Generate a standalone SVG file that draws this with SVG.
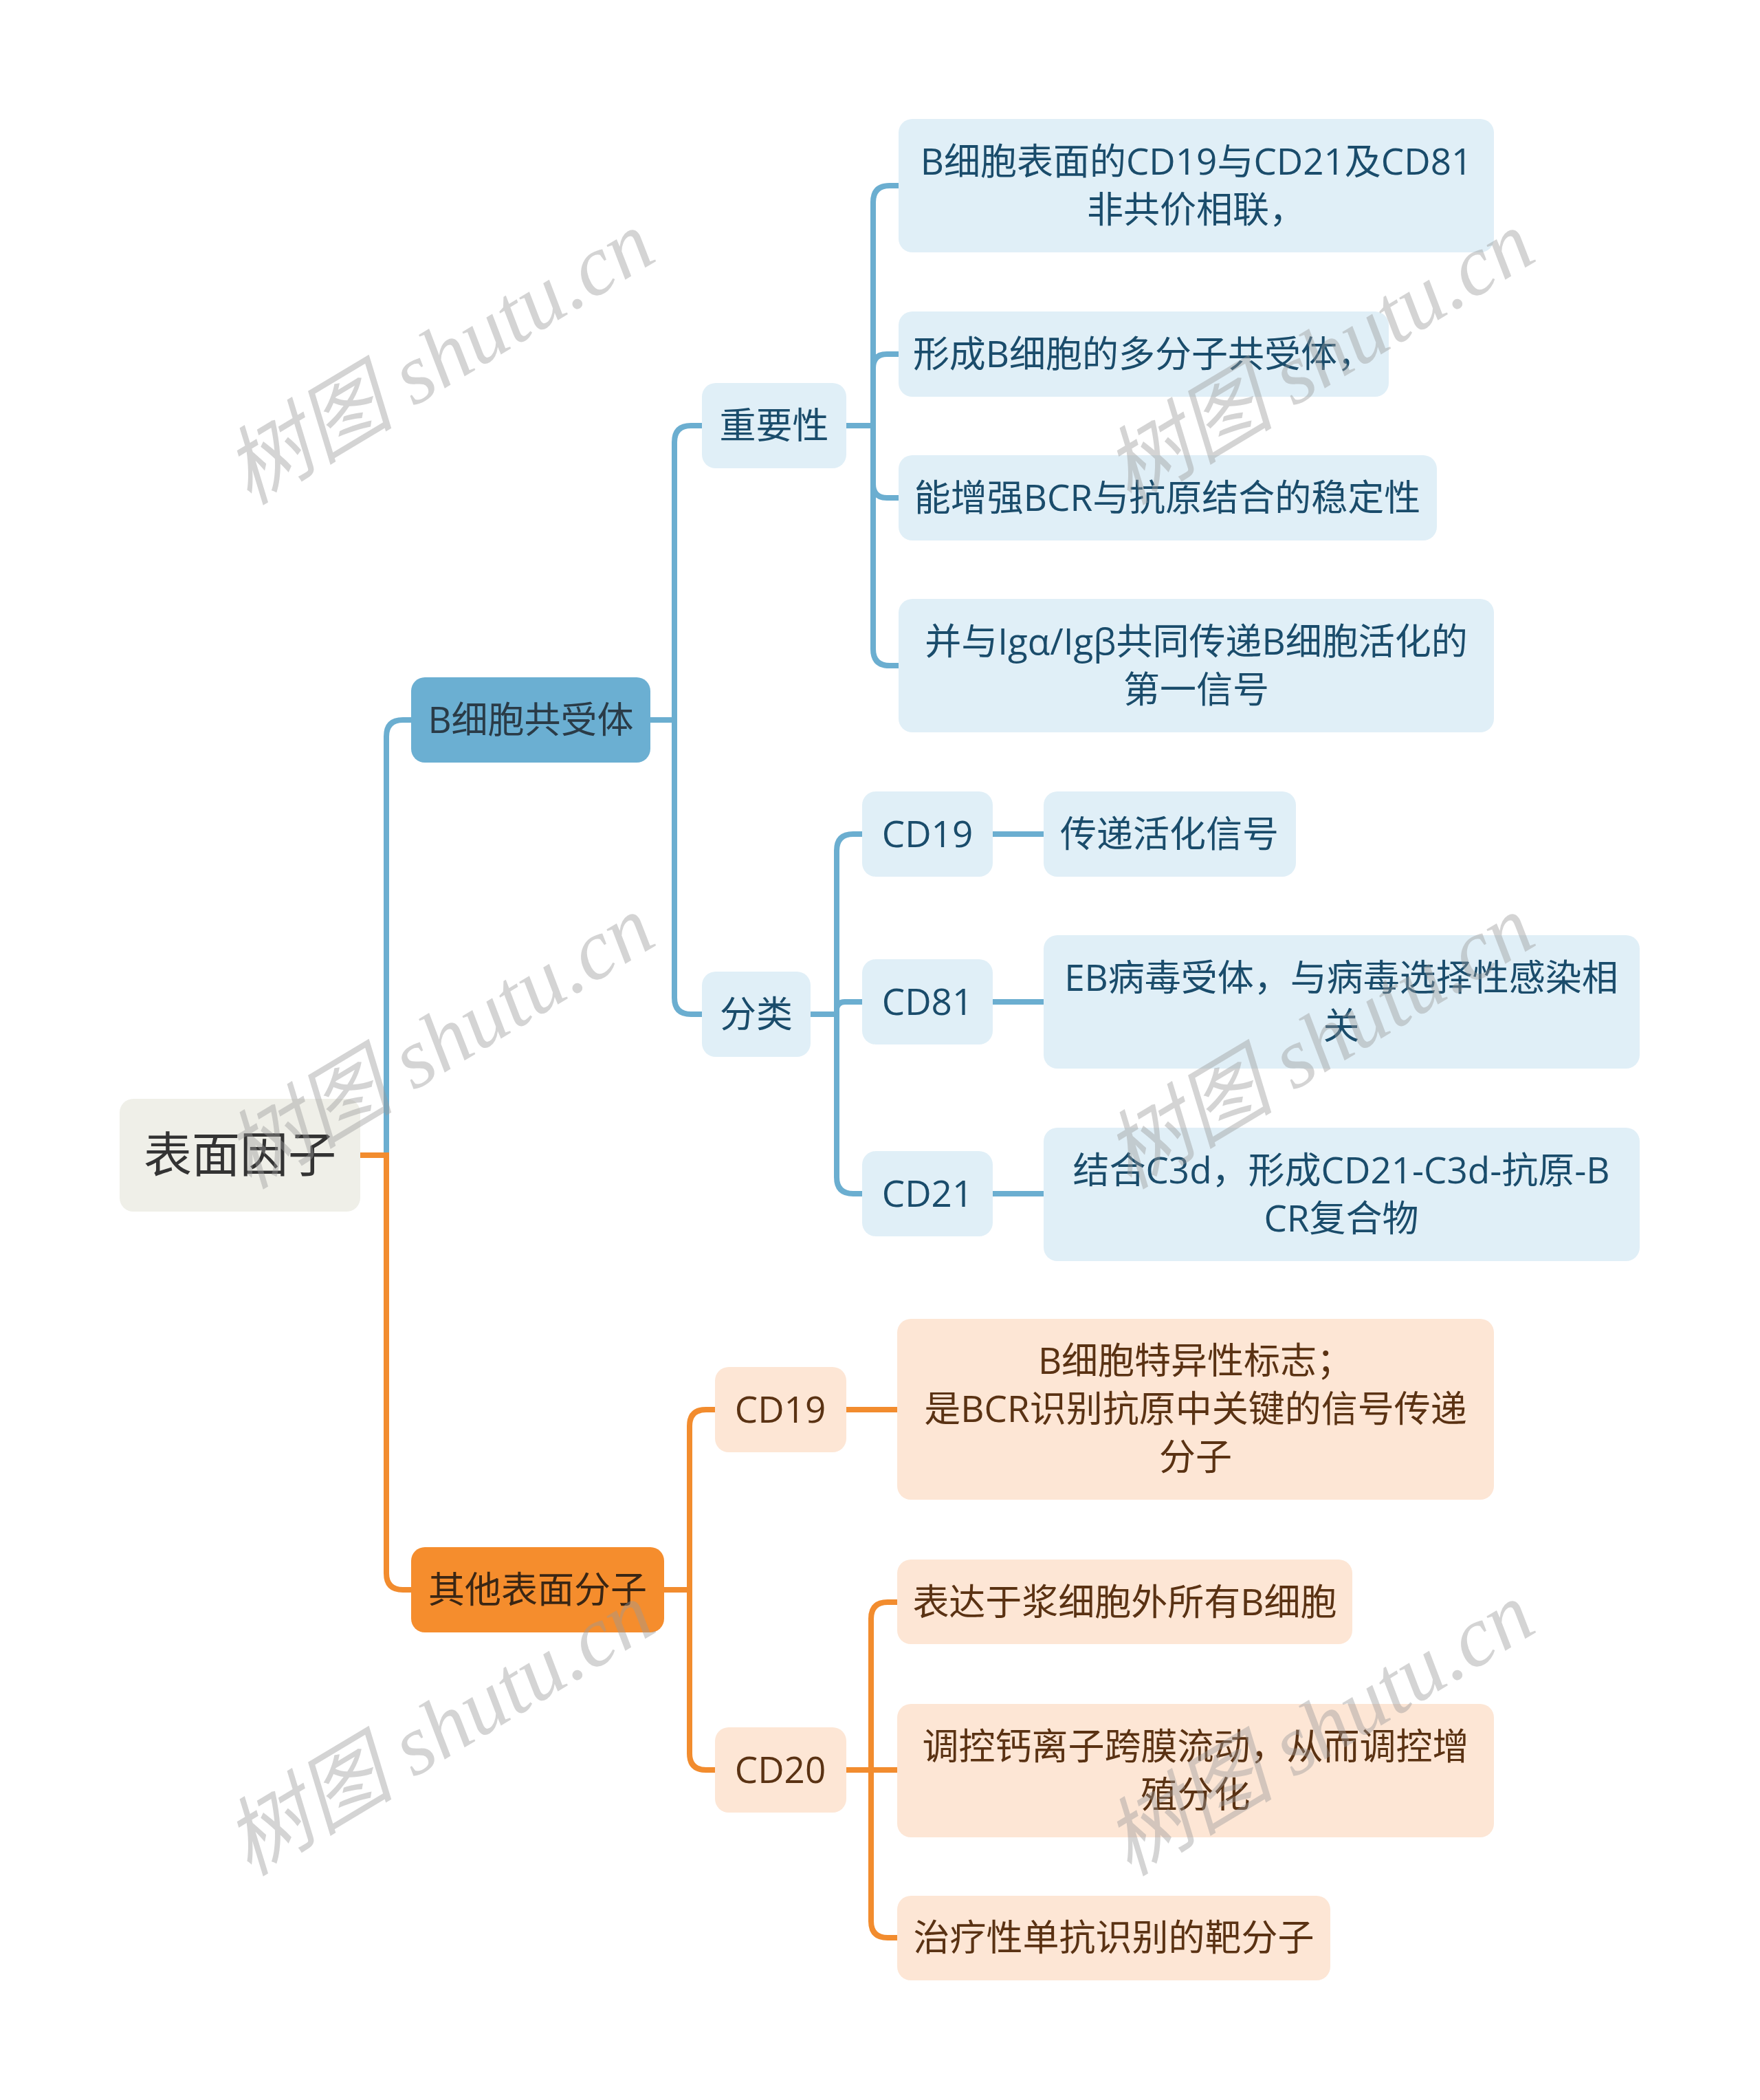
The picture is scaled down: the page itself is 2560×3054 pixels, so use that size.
<svg xmlns="http://www.w3.org/2000/svg" width="2560" height="3054" viewBox="0 0 2560 3054">
<style>
text{font-family:"Open Sans","Noto Sans CJK SC",sans-serif;font-size:53px;text-anchor:middle}
.bl{fill:#E0EFF7}
.pl{fill:#FDE6D5}
.tb{fill:#1A4C6B}
.tp{fill:#5A3213}
.lb{fill:none;stroke:#6BAED0;stroke-width:8}
.lo{fill:none;stroke:#F28C2E;stroke-width:8}
.wm{font-family:"Liberation Serif","Noto Sans CJK SC",serif;font-style:italic;font-size:124px;fill:#9a9a9a;opacity:0.42}
</style>
<rect width="2560" height="3054" fill="#FFFFFF"/>
<g id="connectors">
<path class="lb" d="M 562 1680 V 1071 Q 562 1047 586 1047 H 598"/>
<path class="lb" d="M 946 1047 H 981"/>
<path class="lb" d="M 981 1047 V 643 Q 981 619 1005 619 H 1021"/>
<path class="lb" d="M 981 1047 V 1451 Q 981 1475 1005 1475 H 1021"/>
<path class="lb" d="M 1231 619 H 1270"/>
<path class="lb" d="M 1270 619 V 294 Q 1270 270 1294 270 H 1307"/>
<path class="lb" d="M 1270 619 V 535 Q 1270 515 1290 515 H 1307"/>
<path class="lb" d="M 1270 619 V 704 Q 1270 724 1290 724 H 1307"/>
<path class="lb" d="M 1270 619 V 944 Q 1270 968 1294 968 H 1307"/>
<path class="lb" d="M 1179 1475 H 1217"/>
<path class="lb" d="M 1217 1475 V 1237 Q 1217 1213 1241 1213 H 1254"/>
<path class="lb" d="M 1217 1475 V 1469 Q 1217 1457 1229 1457 H 1254"/>
<path class="lb" d="M 1217 1475 V 1712 Q 1217 1736 1241 1736 H 1254"/>
<path class="lb" d="M 1444 1213 H 1518"/>
<path class="lb" d="M 1444 1457 H 1518"/>
<path class="lb" d="M 1444 1736 H 1518"/>
<path class="lo" d="M 524 1680 H 562 V 2288 Q 562 2312 586 2312 H 598"/>
<path class="lo" d="M 966 2312 H 1003"/>
<path class="lo" d="M 1003 2312 V 2074 Q 1003 2050 1027 2050 H 1040"/>
<path class="lo" d="M 1003 2312 V 2550 Q 1003 2574 1027 2574 H 1040"/>
<path class="lo" d="M 1231 2050 H 1305"/>
<path class="lo" d="M 1231 2574 H 1305"/>
<path class="lo" d="M 1267 2574 V 2354 Q 1267 2330 1291 2330 H 1305"/>
<path class="lo" d="M 1267 2574 V 2794 Q 1267 2818 1291 2818 H 1305"/>
</g>
<g id="root"><rect x="174" y="1598" width="350" height="164" rx="20" fill="#EFEFE8"/><text x="349" y="1705" style="font-size:70px" fill="#333333">表面因子</text></g>
<g id="n_bcr"><rect x="598" y="985" width="348" height="124" rx="20" fill="#6BAFD2"/><text x="772" y="1066" fill="#2A3B47">B细胞共受体</text></g>
<g id="n_imp"><rect class="bl" x="1021" y="557" width="210" height="124" rx="20"/><text class="tb" x="1126" y="638">重要性</text></g>
<g id="n_cls"><rect class="bl" x="1021" y="1413" width="158" height="124" rx="20"/><text class="tb" x="1100" y="1494">分类</text></g>
<g id="l1"><rect class="bl" x="1307" y="173" width="866" height="194" rx="20"/><text class="tb" x="1740" y="254">B细胞表面的CD19与CD21及CD81</text><text class="tb" x="1740" y="324">非共价相联，</text></g>
<g id="l2"><rect class="bl" x="1307" y="453" width="713" height="124" rx="20"/><text class="tb" x="1663" y="534">形成B细胞的多分子共受体，</text></g>
<g id="l3"><rect class="bl" x="1307" y="662" width="783" height="124" rx="20"/><text class="tb" x="1698" y="743">能增强BCR与抗原结合的稳定性</text></g>
<g id="l4"><rect class="bl" x="1307" y="871" width="866" height="194" rx="20"/><text class="tb" x="1740" y="952">并与Igα/Igβ共同传递B细胞活化的</text><text class="tb" x="1740" y="1022">第一信号</text></g>
<g id="cd19b"><rect class="bl" x="1254" y="1151" width="190" height="124" rx="20"/><text class="tb" x="1349" y="1232">CD19</text></g>
<g id="cd81b"><rect class="bl" x="1254" y="1395" width="190" height="124" rx="20"/><text class="tb" x="1349" y="1476">CD81</text></g>
<g id="cd21b"><rect class="bl" x="1254" y="1674" width="190" height="124" rx="20"/><text class="tb" x="1349" y="1755">CD21</text></g>
<g id="m1"><rect class="bl" x="1518" y="1151" width="367" height="124" rx="20"/><text class="tb" x="1701" y="1232">传递活化信号</text></g>
<g id="m2"><rect class="bl" x="1518" y="1360" width="867" height="194" rx="20"/><text class="tb" x="1951" y="1441">EB病毒受体，与病毒选择性感染相</text><text class="tb" x="1951" y="1511">关</text></g>
<g id="m3"><rect class="bl" x="1518" y="1640" width="867" height="194" rx="20"/><text class="tb" x="1951" y="1721">结合C3d，形成CD21-C3d-抗原-B</text><text class="tb" x="1951" y="1791">CR复合物</text></g>
<g id="n_other"><rect x="598" y="2250" width="368" height="124" rx="20" fill="#F58D2D"/><text x="782" y="2331" fill="#3A2614">其他表面分子</text></g>
<g id="cd19o"><rect class="pl" x="1040" y="1988" width="191" height="124" rx="20"/><text class="tp" x="1135" y="2069">CD19</text></g>
<g id="cd20o"><rect class="pl" x="1040" y="2512" width="191" height="124" rx="20"/><text class="tp" x="1135" y="2593">CD20</text></g>
<g id="o1"><rect class="pl" x="1305" y="1918" width="868" height="263" rx="20"/><text class="tp" x="1739" y="1998">B细胞特异性标志；</text><text class="tp" x="1739" y="2068">是BCR识别抗原中关键的信号传递</text><text class="tp" x="1739" y="2138">分子</text></g>
<g id="o2"><rect class="pl" x="1305" y="2268" width="662" height="123" rx="20"/><text class="tp" x="1636" y="2349">表达于浆细胞外所有B细胞</text></g>
<g id="o3"><rect class="pl" x="1305" y="2478" width="868" height="194" rx="20"/><text class="tp" x="1739" y="2559">调控钙离子跨膜流动，从而调控增</text><text class="tp" x="1739" y="2629">殖分化</text></g>
<g id="o4"><rect class="pl" x="1305" y="2757" width="630" height="123" rx="20"/><text class="tp" x="1620" y="2837">治疗性单抗识别的靶分子</text></g>
<g id="watermarks">
<text class="wm" transform="translate(640 522) rotate(-31)" y="40">树图 shutu.cn</text>
<text class="wm" transform="translate(1920 522) rotate(-31)" y="40">树图 shutu.cn</text>
<text class="wm" transform="translate(640 1517) rotate(-31)" y="40">树图 shutu.cn</text>
<text class="wm" transform="translate(1920 1517) rotate(-31)" y="40">树图 shutu.cn</text>
<text class="wm" transform="translate(640 2516) rotate(-31)" y="40">树图 shutu.cn</text>
<text class="wm" transform="translate(1920 2516) rotate(-31)" y="40">树图 shutu.cn</text>
</g>
</svg>
